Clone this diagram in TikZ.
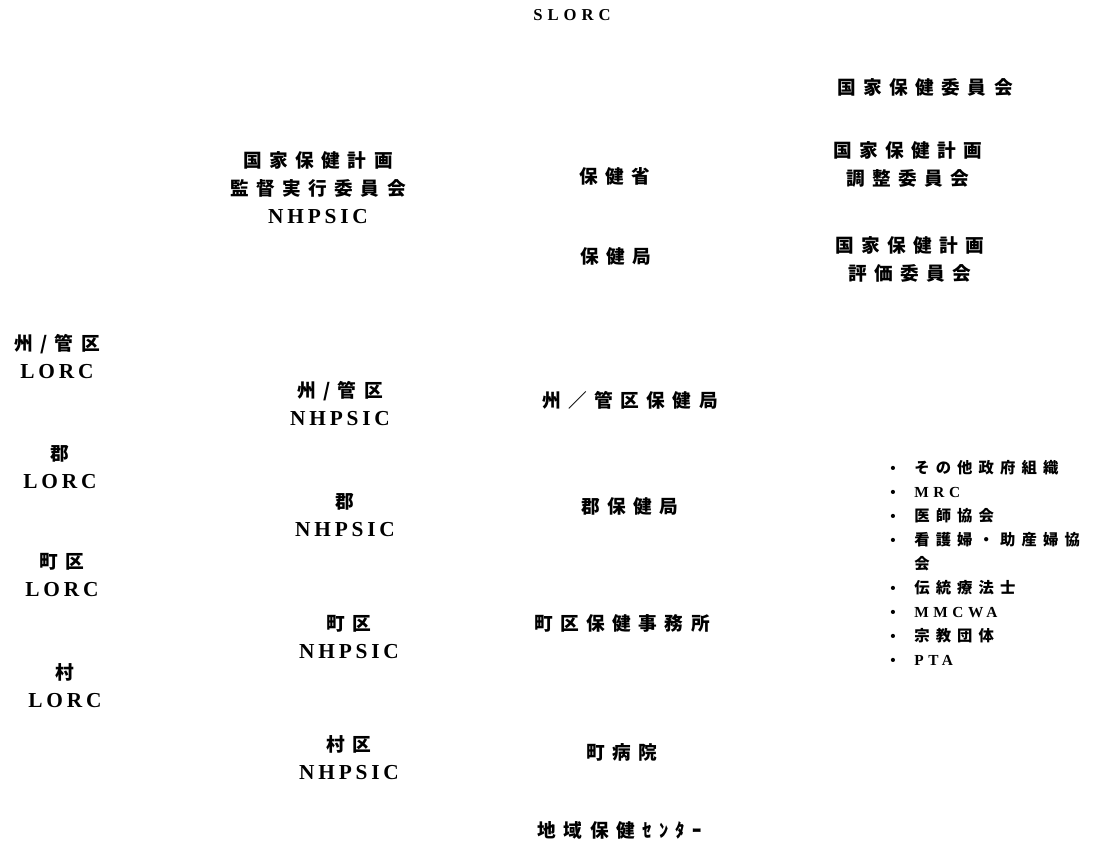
\documentclass[tikz,border=0pt]{standalone}
\usepackage{fontspec}
\setmainfont[LetterSpace=30]{Liberation Serif}
\newfontfamily\jpfont[LetterSpace=40]{Noto Sans CJK JP}
\newfontfamily\abbrfont[LetterSpace=18]{Liberation Serif}
\newcommand\abbr[1]{{\abbrfont\fontsize{16}{21}\selectfont #1}}
\usetikzlibrary{positioning}

\begin{document}
\begin{tikzpicture}[
        x=0.75pt, y=-0.75pt,
        label/.style={align=center, inner sep=0pt,
          font=\fontsize{14}{21}\selectfont\bfseries},
        items/.style={align=left, inner sep=0pt, anchor=north west,
          font=\fontsize{11.5}{18}\selectfont\bfseries}
      ]
        \useasboundingbox (0,0) rectangle (1117,862);

        % Top level
        \node[label, font=\fontsize{12.5}{21}\selectfont\bfseries] (slorc) at (572,15) {SLORC};
        \node[label] (nhc) at (925,87) {\jpfont 国家保健委員会};
        \node[label] (nhpcc) at (908,164) {\jpfont 国家保健計画\\\jpfont 調整委員会};
        \node[label] (nhpec) at (910,259) {\jpfont 国家保健計画\\\jpfont 評価委員会};
        \node[label] (nhpsic) at (318,188) {\jpfont 国家保健計画\\\jpfont 監督実行委員会\\\abbr{NHPSIC}};
        \node[label] (moh) at (615,176) {\jpfont 保健省};
        \node[label] (dh) at (616,256) {\jpfont 保健局};

        % Local levels
        \node[label] (stlorc) at (57,357) {\jpfont 州/管区\\\abbr{LORC}};
        \node[label] (dtlorc) at (60,467) {\jpfont 郡\\\abbr{LORC}};
        \node[label] (twlorc) at (62,575) {\jpfont 町区\\\abbr{LORC}};
        \node[label] (vllorc) at (65,686) {\jpfont 村\\\abbr{LORC}};

        \node[label] (stnhpsic) at (340,404) {\jpfont 州/管区\\\abbr{NHPSIC}};
        \node[label] (dtnhpsic) at (345,515) {\jpfont 郡\\\abbr{NHPSIC}};
        \node[label] (twnhpsic) at (349,637) {\jpfont 町区\\\abbr{NHPSIC}};
        \node[label] (vlnhpsic) at (349,758) {\jpfont 村区\\\abbr{NHPSIC}};

        \node[label] (sthd) at (630,400) {\jpfont 州／管区保健局};
        \node[label] (dthd) at (630,506) {\jpfont 郡保健局};
        \node[label] (twho) at (622,623) {\jpfont 町区保健事務所};
        \node[label] (twhosp) at (622,752) {\jpfont 町病院};
        \node[label] (rhc) at (620,830) {\jpfont 地域保健ｾﾝﾀｰ};

        % Other organisations
        \node[items] (others) at (890,456) {%
          \begin{tabular}{@{}l@{\hspace{14pt}}l@{}}
            • & \jpfont その他政府組織\\
            • & MRC\\
            • & \jpfont 医師協会\\
            • & \jpfont 看護婦・助産婦協\\
              & \jpfont 会\\
            • & \jpfont 伝統療法士\\
            • & MMCWA\\
            • & \jpfont 宗教団体\\
            • & PTA
          \end{tabular}};
      \end{tikzpicture}
\end{document}
